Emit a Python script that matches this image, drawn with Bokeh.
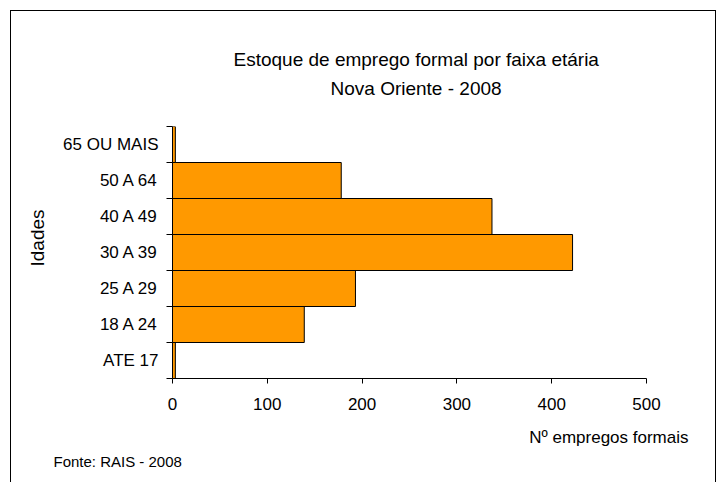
from bokeh.plotting import figure
from bokeh.models import Range1d, FixedTicker, ColumnDataSource, Title
from bokeh.embed import file_html
from bokeh.resources import INLINE

# ---- data ----
categories = ["ATE 17", "18 A 24", "25 A 29", "30 A 39", "40 A 49", "50 A 64", "65 OU MAIS"]
empregos = [3, 139, 193, 422, 337, 178, 3]
x_ticks = [0, 100, 200, 300, 400, 500]
title_lines = ["Estoque de emprego formal por faixa etária", "Nova Oriente - 2008"]
y_title = "Idades"
x_title = "Nº empregos formais"
fonte = "Fonte: RAIS - 2008"

FONT = "Liberation Sans"

centers = [i + 0.5 for i in range(len(categories))]
bounds = list(range(len(categories) + 1))
src = ColumnDataSource(dict(y=centers, right=empregos, cat=categories))

p = figure(width=706, height=472,
           x_range=Range1d(x_ticks[0], x_ticks[-1]),
           y_range=Range1d(0, len(categories)),
           output_backend="svg", toolbar_location=None,
           min_border_left=161, min_border_right=71,
           min_border_top=115, min_border_bottom=105)
p.styles = {"border-top": "1px solid black", "border-left": "1px solid black",
            "border-right": "1px solid black",
            "margin-left": "10px", "margin-top": "10px"}

p.hbar(y="y", left=0, right="right", height=1, source=src,
       fill_color="#FF9900", line_color="black", line_width=1)

p.xgrid.visible = False
p.ygrid.visible = False
p.outline_line_color = None
p.background_fill_color = "white"
p.border_fill_color = "white"

# x axis
xa = p.xaxis[0]
xa.ticker = FixedTicker(ticks=x_ticks, minor_ticks=[])
xa.major_tick_out = 5
xa.major_tick_in = 0
xa.axis_line_color = "black"
xa.major_tick_line_color = "black"
xa.major_label_text_font = FONT
xa.major_label_text_font_size = "17px"
xa.major_label_text_color = "black"
xa.major_label_standoff = 14

# y axis
ya = p.yaxis[0]
ya.ticker = FixedTicker(ticks=centers, minor_ticks=bounds)
ya.major_label_overrides = {c: cat for c, cat in zip(centers, categories)}
ya.major_tick_line_color = None
ya.major_tick_out = 0
ya.major_tick_in = 0
ya.minor_tick_out = 6
ya.minor_tick_in = 0
ya.minor_tick_line_color = "black"
ya.axis_line_color = "black"
ya.major_label_text_font = FONT
ya.major_label_text_font_size = "17px"
ya.major_label_text_color = "black"
ya.major_label_standoff = 8


def title(text, size, align, standoff, offset, side):
    t = Title(text=text, align=align, text_font=FONT, text_font_size=size,
              text_font_style="normal", text_color="black",
              standoff=standoff, offset=offset)
    p.add_layout(t, side)


# titles above (first added sits nearest the frame); a blank spacer first
title(" ", "19px", "left", 2, 0, "above")
title(title_lines[1], "19px", "left", 6, 158, "above")
title(title_lines[0], "19px", "left", 6, 61, "above")
# y title on the left
title(y_title, "19px", "left", 25, 112, "left")
# x title and source below
title(x_title, "17px", "right", 26, -42, "below")
title(fonte, "15px", "left", -20, -119, "below")

open("out.html", "w").write(file_html(p, INLINE))
